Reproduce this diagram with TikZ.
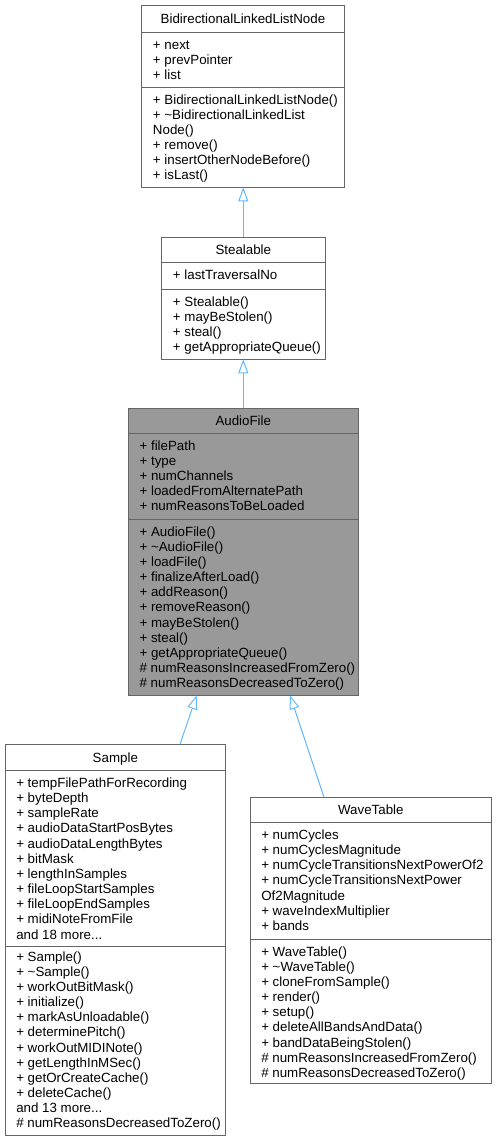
\documentclass[tikz,border=0pt]{standalone}
\usepackage{fontspec}
\setmainfont{Liberation Sans}
\usetikzlibrary{arrows.meta}
\definecolor{edgeblue}{HTML}{63B8FF}
\definecolor{boxgray}{HTML}{666666}
\definecolor{basefill}{HTML}{999999}
\newcommand{\andmore}[1]{and #1 more...}

\begin{document}
\begin{tikzpicture}[x=0.75pt,y=-0.75pt,
  box/.style={draw=boxgray, line width=0.75pt},
  classname/.style={anchor=base, inner sep=0pt, font=\fontsize{10}{12}\selectfont},
  member/.style={anchor=base west, inner sep=0pt, font=\fontsize{10}{12}\selectfont},
  inherit/.style={draw=edgeblue, line width=0.75pt, -{Triangle[open,length=10.5pt,width=7.5pt]}}]

  \useasboundingbox (0,0) rectangle (498,1143);

  \draw[box] (141.7,5.3) rectangle (344.3,187.3);
  \draw[box] (141.7,32.7) -- (344.3,32.7);
  \draw[box] (141.7,87.3) -- (344.3,87.3);
  \node[classname] (linknode) at (243,23.7) {BidirectionalLinkedListNode};
  \foreach \txt [count=\i] in {+ next, + prevPointer, + list}
    \node[member] (linknode-a\i) at (152.7,{34.35+15.15*\i}) {\txt};
  \foreach \txt [count=\i] in {+ BidirectionalLinkedListNode(),
    + \textasciitilde BidirectionalLinkedList, Node(), + remove(),
    + insertOtherNodeBefore(), + isLast()}
    \node[member] (linknode-m\i) at (152.7,{88.95+15.15*\i}) {\txt};

  \draw[box] (161.7,237.3) rectangle (325,359.3);
  \draw[box] (161.7,262.7) -- (325,262.7);
  \draw[box] (161.7,289.3) -- (325,289.3);
  \node[classname] (stealable) at (243.3,254.7) {Stealable};
  \foreach \txt [count=\i] in {+ lastTraversalNo}
    \node[member] (stealable-a\i) at (172.7,{264.35+15.15*\i}) {\txt};
  \foreach \txt [count=\i] in {+ Stealable(), + mayBeStolen(), + steal(),
    + getAppropriateQueue()}
    \node[member] (stealable-m\i) at (172.7,{290.95+15.15*\i}) {\txt};

  \draw[box, fill=basefill] (128.3,408.3) rectangle (358.3,695.3);
  \draw[box] (128.3,433.3) -- (358.3,433.3);
  \draw[box] (128.3,519.3) -- (358.3,519.3);
  \node[classname] (audiofile) at (243.3,425.5) {AudioFile};
  \foreach \txt [count=\i] in {+ filePath, + type, + numChannels,
    + loadedFromAlternatePath, + numReasonsToBeLoaded}
    \node[member] (audiofile-a\i) at (139.3,{434.95+15.15*\i}) {\txt};
  \foreach \txt [count=\i] in {+ AudioFile(), + \textasciitilde AudioFile(),
    + loadFile(), + finalizeAfterLoad(), + addReason(), + removeReason(),
    + mayBeStolen(), + steal(), + getAppropriateQueue(),
    \# numReasonsIncreasedFromZero(), \# numReasonsDecreasedToZero()}
    \node[member] (audiofile-m\i) at (139.3,{520.95+15.15*\i}) {\txt};

  \draw[box] (5,744.3) rectangle (225.7,1135);
  \draw[box] (5,770.7) -- (225.7,770.7);
  \draw[box] (5,946.7) -- (225.7,946.7);
  \node[classname] (sample) at (115.35,762.2) {Sample};
  \foreach \txt [count=\i] in {+ tempFilePathForRecording, + byteDepth,
    + sampleRate, + audioDataStartPosBytes, + audioDataLengthBytes,
    + bitMask, + lengthInSamples, + fileLoopStartSamples,
    + fileLoopEndSamples, + midiNoteFromFile, \andmore{18}}
    \node[member] (sample-a\i) at (16,{772.35+15.15*\i}) {\txt};
  \foreach \txt [count=\i] in {+ Sample(), + \textasciitilde Sample(),
    + workOutBitMask(), + initialize(), + markAsUnloadable(),
    + determinePitch(), + workOutMIDINote(), + getLengthInMSec(),
    + getOrCreateCache(), + deleteCache(), \andmore{13},
    \# numReasonsDecreasedToZero()}
    \node[member] (sample-m\i) at (16,{946.35+15.1*\i}) {\txt};

  \draw[box] (250,797.3) rectangle (491.7,1083.3);
  \draw[box] (250,822.7) -- (491.7,822.7);
  \draw[box] (250,939.3) -- (491.7,939.3);
  \node[classname] (wavetable) at (370.85,814.7) {WaveTable};
  \foreach \txt [count=\i] in {+ numCycles, + numCyclesMagnitude,
    + numCycleTransitionsNextPowerOf2, + numCycleTransitionsNextPower,
    Of2Magnitude, + waveIndexMultiplier, + bands}
    \node[member] (wavetable-a\i) at (261,{824.35+15.15*\i}) {\txt};
  \foreach \txt [count=\i] in {+ WaveTable(), + \textasciitilde WaveTable(),
    + cloneFromSample(), + render(), + setup(), + deleteAllBandsAndData(),
    + bandDataBeingStolen(), \# numReasonsIncreasedFromZero(),
    \# numReasonsDecreasedToZero()}
    \node[member] (wavetable-m\i) at (261,{940.95+15.15*\i}) {\txt};

  \coordinate (linknode-bot) at (243.3,187.3);
  \coordinate (stealable-top) at (243.3,237.3);
  \coordinate (stealable-bot) at (243.3,359.3);
  \coordinate (audiofile-top) at (243.3,408.3);
  \coordinate (audiofile-botl) at (196.7,695.3);
  \coordinate (audiofile-botr) at (290,695.3);
  \coordinate (sample-top) at (180,744.3);
  \coordinate (wavetable-top) at (324,797.3);

  \draw[inherit] (stealable-top) -- (linknode-bot);
  \draw[inherit] (audiofile-top) -- (stealable-bot);
  \draw[inherit] (sample-top) -- (audiofile-botl);
  \draw[inherit] (wavetable-top) -- (audiofile-botr);

\end{tikzpicture}
\end{document}
